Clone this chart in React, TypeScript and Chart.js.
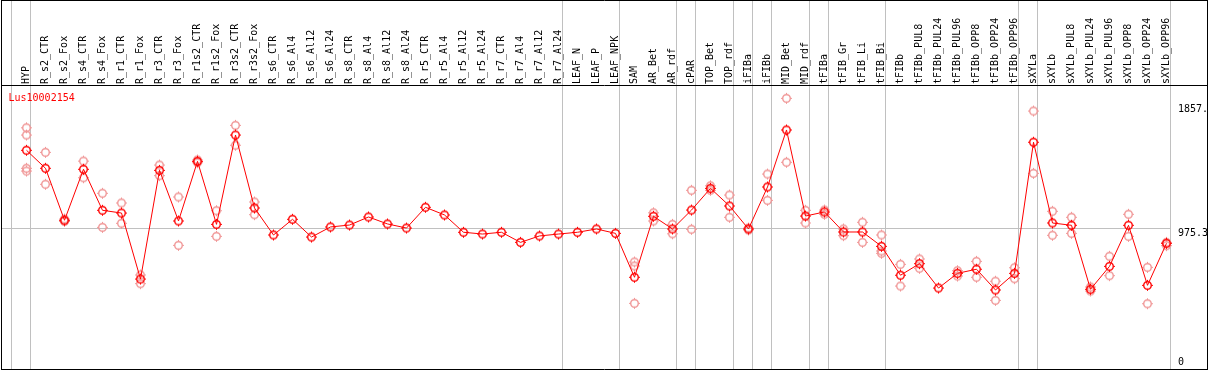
import React, { useEffect, useRef } from "react";
import { Chart, registerables } from "chart.js";

Chart.register(...registerables);

const geneName = "Lus10002154";

const categories = [
  "HYP", "R_s2_CTR", "R_s2_Fox", "R_s4_CTR", "R_s4_Fox", "R_r1_CTR", "R_r1_Fox",
  "R_r3_CTR", "R_r3_Fox", "R_r1s2_CTR", "R_r1s2_Fox", "R_r3s2_CTR", "R_r3s2_Fox",
  "R_s6_CTR", "R_s6_Al4", "R_s6_Al12", "R_s6_Al24", "R_s8_CTR", "R_s8_Al4", "R_s8_Al12",
  "R_s8_Al24", "R_r5_CTR", "R_r5_Al4", "R_r5_Al12", "R_r5_Al24", "R_r7_CTR", "R_r7_Al4",
  "R_r7_Al12", "R_r7_Al24", "LEAF_N", "LEAF_P", "LEAF_NPK", "SAM", "AR_Bet", "AR_rdf",
  "cPAR", "TOP_Bet", "TOP_rdf", "iFIBa", "iFIBb", "MID_Bet", "MID_rdf", "tFIBa",
  "tFIB_Gr", "tFIB_Li", "tFIB_Bi", "tFIBb", "tFIBb_PUL8", "tFIBb_PUL24", "tFIBb_PUL96",
  "tFIBb_OPP8", "tFIBb_OPP24", "tFIBb_OPP96", "sXYLa", "sXYLb", "sXYLb_PUL8",
  "sXYLb_PUL24", "sXYLb_PUL96", "sXYLb_OPP8", "sXYLb_OPP24", "sXYLb_OPP96",
];

const meanValues = [
  1547, 1415, 1034, 1408, 1107, 1087, 603, 1400, 1029, 1466, 1004, 1659, 1124,
  926, 1041, 911, 985, 999, 1058, 1007, 977, 1129, 1073, 946, 933, 946, 872, 919, 933,
  946, 970, 938, 616, 1063, 970, 1109, 1268, 1139, 970, 1278, 1696, 1065, 1095,
  948, 948, 843, 631, 716, 537, 645, 675, 523, 645, 1606, 1014, 997, 528, 696, 997, 557, 865,
];

const repHigh = [
  1712, 1532, 1043, 1468, 1232, 1161, 633, 1439, 1205, 1476, 1104, 1730, 1168,
  null, null, null, null, null, null, null, null, null, null, null, null, null, null, null, null,
  null, null, null, 728, 1089, 1004, 1254, 1287, 1219, 977, 1373, 1928, 1107, 1109,
  970, 1019, 926, 711, 750, null, 664, 733, 587, 686, 1835, 1100, 1056, 545, 770, 1078, 689, 872,
];

const repLow = [
  1395, 1298, 1025, 1346, 982, 1012, 569, 1361, 850, 1456, 916, 1584, 1075,
  null, null, null, null, null, null, null, null, null, null, null, null, null, null, null, null,
  null, null, null, 425, 1029, 935, 968, 1254, 1056, 963, 1180, 1459, 1014, 1078,
  921, 872, 792, 552, 682, null, 625, 616, 447, 606, 1378, 924, 938, 515, 628, 916, 422, 848,
];

const repThird = [
  1659, null, null, null, null, null, null, null, null, null, null, null, null,
  null, null, null, null, null, null, null, null, null, null, null, null, null, null, null, null,
  null, null, null, 699, null, null, null, null, null, null, null, null, null, null,
  null, null, 809, null, null, null, null, null, null, null, null, null, null, null, null, null, null, null,
];

const repFourth = [
  1415, null, null, null, null, null, null, null, null, null, null, null, null,
  null, null, null, null, null, null, null, null, null, null, null, null, null, null, null, null,
  null, null, null, null, null, null, null, null, null, null, null, null, null, null,
  null, null, null, null, null, null, null, null, null, null, null, null, null, null, null, null, null, null,
];

// index of last category in each group (-1 = left edge of the first group)
const groupEnds = [-1, 0, 28, 31, 34, 35, 37, 38, 39, 41, 42, 45, 52, 53, 60];

const yTickValues = [1857, 975.3, 0];
const yTickLabels = ["1857.", "975.3", "0"];
const referenceLineValue = 975.3;

const FONT = "10px 'DejaVu Sans Mono', monospace";

function toPoints(arr: (number | null)[]) {
  const out: { x: number; y: number }[] = [];
  arr.forEach((v, i) => {
    if (v !== null && v !== undefined) out.push({ x: i, y: v });
  });
  return out;
}

function makeMarker(color: string) {
  const c = document.createElement("canvas");
  c.width = 13;
  c.height = 13;
  const g = c.getContext("2d")!;
  g.strokeStyle = color;
  g.fillStyle = color;
  g.lineWidth = 1.4;
  g.beginPath();
  g.arc(6.5, 6.5, 3.8, 0, Math.PI * 2);
  g.stroke();
  g.fillRect(6, 1, 1, 1);
  g.fillRect(6, 11, 1, 1);
  g.fillRect(1, 6, 1, 1);
  g.fillRect(11, 6, 1, 1);
  return c;
}

const decorPlugin = {
  id: "decor",
  beforeDatasetsDraw(chart: any) {
    const { ctx, chartArea: a, scales } = chart;
    const x = scales.x;
    const y = scales.y;
    const H = chart.height;
    ctx.save();
    // vertical group separators
    ctx.strokeStyle = "#c0c0c0";
    ctx.lineWidth = 1;
    groupEnds.forEach((i) => {
      const px = Math.floor(x.getPixelForValue(i) + 4) + 0.5;
      ctx.beginPath();
      ctx.moveTo(px, 0);
      ctx.lineTo(px, H);
      ctx.stroke();
    });
    // reference horizontal line
    const lastSep = Math.floor(x.getPixelForValue(groupEnds[groupEnds.length - 1]) + 4) + 0.5;
    const ry = Math.round(y.getPixelForValue(referenceLineValue)) + 0.5;
    ctx.beginPath();
    ctx.moveTo(a.left, ry);
    ctx.lineTo(lastSep, ry);
    ctx.stroke();

    // category labels (rotated)
    ctx.fillStyle = "#000";
    ctx.font = FONT;
    ctx.textAlign = "left";
    ctx.textBaseline = "middle";
    categories.forEach((c, i) => {
      const px = x.getPixelForValue(i);
      ctx.save();
      ctx.translate(px, a.top - 1);
      ctx.rotate(-Math.PI / 2);
      ctx.fillText(c, 0, 0);
      ctx.restore();
    });

    // y tick labels (inside plot, right side)
    ctx.save();
    ctx.beginPath();
    ctx.rect(a.left, a.top, a.right - a.left, a.bottom - a.top);
    ctx.clip();
    ctx.textBaseline = "alphabetic";
    yTickValues.forEach((v, k) => {
      const py = y.getPixelForValue(v);
      const off = v === referenceLineValue ? 7.6 : 3.7;
      ctx.fillText(yTickLabels[k], lastSep + 7.5, py + off);
    });
    ctx.restore();

    // title
    ctx.fillStyle = "#ff0000";
    ctx.textBaseline = "alphabetic";
    ctx.fillText(geneName, 8.5, a.top + 16);
    ctx.restore();
  },
  afterDraw(chart: any) {
    const { ctx, chartArea: a } = chart;
    ctx.save();
    ctx.strokeStyle = "#000";
    ctx.lineWidth = 1;
    ctx.beginPath();
    ctx.moveTo(a.left + 0.5, 0.5);
    ctx.lineTo(a.right + 0.5, 0.5);
    ctx.moveTo(a.left + 0.5, a.top + 0.5);
    ctx.lineTo(a.right + 0.5, a.top + 0.5);
    ctx.moveTo(a.left + 0.5, a.bottom + 0.5);
    ctx.lineTo(a.right + 0.5, a.bottom + 0.5);
    ctx.moveTo(a.left + 0.5, 0);
    ctx.lineTo(a.left + 0.5, a.bottom + 1);
    ctx.moveTo(a.right + 0.5, 0);
    ctx.lineTo(a.right + 0.5, a.bottom + 1);
    ctx.stroke();
    ctx.restore();
  },
};

const whiteBg = {
  id: "whiteBg",
  beforeDraw(chart: any) {
    const { ctx } = chart;
    ctx.save();
    ctx.fillStyle = "#fff";
    ctx.fillRect(0, 0, chart.width, chart.height);
    ctx.restore();
  },
};

export default function App() {
  const ref = useRef<HTMLCanvasElement | null>(null);

  useEffect(() => {
    if (!ref.current) return;
    const meanMarker = makeMarker("#ff0000");
    const repMarker = makeMarker("rgb(240,150,150)");
    const repDataset = (arr: (number | null)[]) => ({
      data: toPoints(arr),
      showLine: false,
      pointStyle: repMarker as any,
      pointRadius: 5,
      borderColor: "rgb(240,150,150)",
      backgroundColor: "rgb(240,150,150)",
      order: 2,
    });
    const chart = new Chart(ref.current, {
      type: "line",
      data: {
        datasets: [
          {
            data: toPoints(meanValues),
            borderColor: "#ff0000",
            backgroundColor: "#ff0000",
            borderWidth: 1,
            tension: 0,
            pointStyle: meanMarker as any,
            pointRadius: 5,
            order: 0,
          },
          repDataset(repHigh),
          repDataset(repLow),
          repDataset(repThird),
          repDataset(repFourth),
        ] as any,
      },
      options: {
        animation: false,
        responsive: false,
        devicePixelRatio: 1,
        layout: { autoPadding: false, padding: { left: 1, top: 85, right: 2, bottom: 1 } },
        plugins: {
          legend: { display: false },
          title: { display: false },
          tooltip: { enabled: false },
        },
        events: [],
        scales: {
          x: { type: "linear", min: -25.5 / 19, max: -25.5 / 19 + 1206 / 19, display: false },
          y: { type: "linear", min: -56.5, max: 2025.7, display: false },
        },
      },
      plugins: [whiteBg, decorPlugin],
    });
    return () => chart.destroy();
  }, []);

  return (
    <div style={{ position: "fixed", left: 0, top: 0, width: 1209, height: 370, background: "#fff" }}>
      <canvas ref={ref} width={1209} height={370} style={{ display: "block" }} />
    </div>
  );
}
